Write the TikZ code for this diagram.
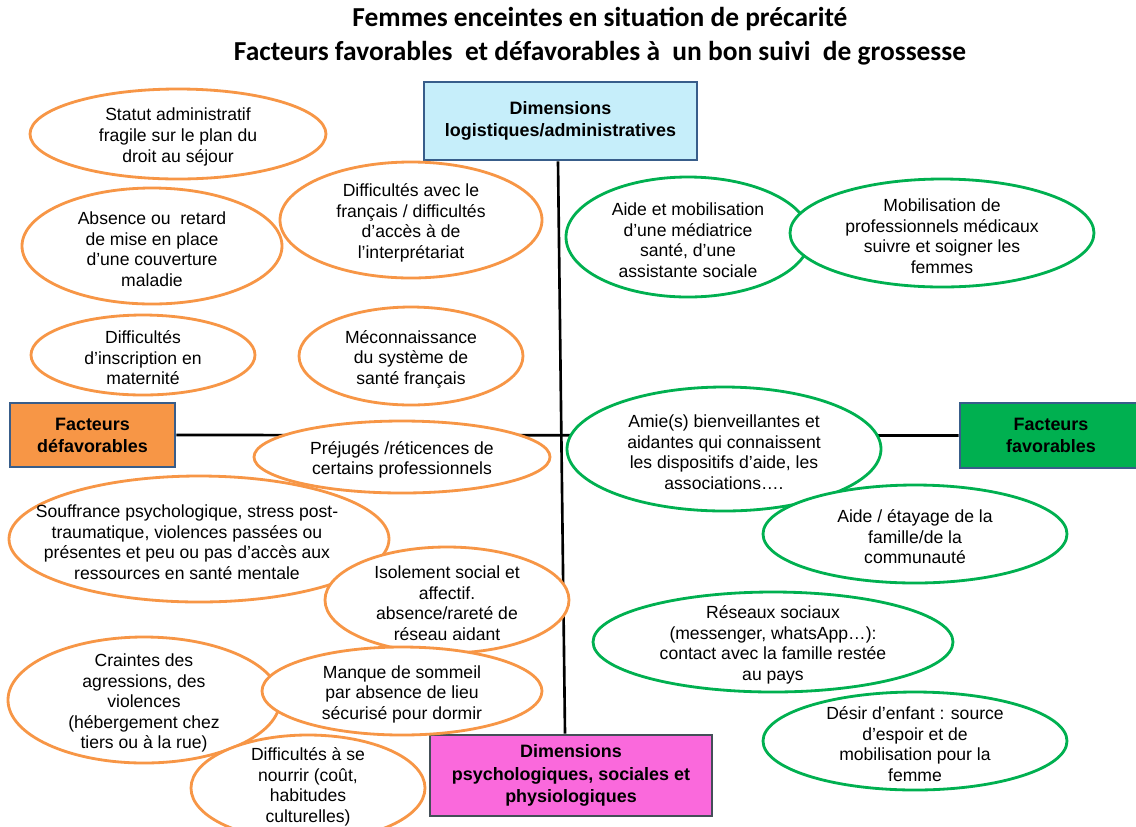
\documentclass[tikz,border=0pt]{standalone}
\usepackage{fontspec}
\setmainfont{Liberation Sans}
\newfontfamily\titlefont{Carlito}
\usetikzlibrary{shapes.geometric}
\definecolor{orng}{HTML}{F79646}
\definecolor{grn}{HTML}{00B050}
\definecolor{boxblue}{HTML}{385D8A}
\definecolor{cyanbox}{RGB}{198,238,250}
\definecolor{magbox}{RGB}{250,105,220}
\begin{document}
\begin{tikzpicture}[x=0.02cm,y=-0.02cm,
  oell/.style 2 args={ellipse, draw=orng, line width=1.6pt, fill=white,
    minimum width=#1*0.02cm, minimum height=#2*0.02cm, inner sep=0pt},
  gell/.style 2 args={ellipse, draw=grn, line width=1.6pt, fill=white,
    minimum width=#1*0.02cm, minimum height=#2*0.02cm, inner sep=0pt},
  txt/.style={align=center, font=\fontsize{10}{11.7}\selectfont, inner sep=0pt, yshift=-0.06cm},
  boxnode/.style 2 args={rectangle, draw=boxblue, line width=1.6pt, align=center,
    font=\fontsize{10.2}{12.6}\selectfont\bfseries, inner sep=0pt,
    minimum width=#1*0.02cm, minimum height=#2*0.02cm},
  axis/.style={draw=black, line width=1.5pt}]
\useasboundingbox (0,0) rectangle (1136,826);
\fill[white] (0,0) rectangle (1136,826);

% title
\node[align=center, font=\titlefont\fontsize{15.6}{19.3}\selectfont\bfseries, inner sep=0pt] (title) at (600,36)
  {Femmes enceintes en situation de précarité\\Facteurs favorables\ \ et défavorables à\ \ un bon suivi\ \ de grossesse};

% boxes
\node[boxnode={273}{78}, fill=cyanbox] (top) at (560.5,121) {Dimensions\\logistiques/administratives};
\node[boxnode={282}{81}, fill=magbox, draw=black!75!cyan] (bot) at (571,775.5) {Dimensions\\psychologiques, sociales et\\physiologiques};
\node[boxnode={165}{64}, fill=orng] (left) at (92.5,435) {Facteurs\\défavorables};
\node[boxnode={182}{65}, fill=grn] (right) at (1051,435.5) {Facteurs\\favorables};

% axes
\draw[axis] ([xshift=-0.05cm]top.south) -- ([xshift=-0.12cm]bot.north);
\draw[axis] (left.east) -- (right.west);

% orange ellipses (unfavourable)
\node[oell={296}{90}] (e1) at (178,134) {};
\node[txt] (t1) at (e1) {Statut administratif\\fragile sur le plan du\\droit au séjour};
\node[oell={260}{116}] (e2) at (152,246) {};
\node[txt] (t2) at (e2) {Absence ou\ \ retard\\de mise en place\\d’une couverture\\maladie};
\node[oell={262}{116}] (e3) at (411,220) {};
\node[txt] (t3) at (e3) {Difficultés avec le\\français / difficultés\\d’accès à de\\l’interprétariat};
\node[oell={224}{80}] (e4) at (143,355) {};
\node[txt] (t4) at (e4) {Difficultés\\d’inscription en\\maternité};
\node[oell={224}{98}] (e5) at (411,356) {};
\node[txt] (t5) at (e5) {Méconnaissance\\du système de\\santé français};
\node[oell={296}{72}] (e6) at (402,457) {};
\node[txt] (t6) at (e6) {Préjugés /réticences de\\certains professionnels};
\node[oell={380}{126}] (e7) at (199,539) {};
\node[txt, xshift=-0.24cm] (t7) at (e7) {Souffrance psychologique, stress post-\\traumatique, violences passées ou\\présentes et peu ou pas d’accès aux\\ressources en santé mentale};
\node[oell={244}{106}] (e8) at (447,600) {};
\node[txt] (t8) at (e8) {Isolement social et\\affectif.\\absence/rareté de\\réseau aidant};
\node[oell={272}{126}] (e9) at (144,700) {};
\node[txt] (t9) at (e9) {Craintes des\\agressions, des\\violences\\(hébergement chez\\tiers ou à la rue)};
\node[oell={280}{88}] (e10) at (402,691) {};
\node[txt] (t10) at (e10) {Manque de sommeil\\par absence de lieu\\sécurisé pour dormir};
\node[oell={234}{106}] (e11) at (308,788) {};
\node[txt, yshift=0.08cm] (t11) at (e11) {Difficultés à se\\nourrir (coût,\\habitudes\\culturelles)};

% green ellipses (favourable)
\node[gell={244}{120}] (g1) at (688,237) {};
\node[txt] (u1) at (g1) {Aide et mobilisation\\d’une médiatrice\\santé, d’une\\assistante sociale};
\node[gell={304}{108}] (g2) at (942,233) {};
\node[txt] (u2) at (g2) {Mobilisation de\\professionnels médicaux\\suivre et soigner les\\femmes};
\node[gell={314}{124}] (g3) at (724,449) {};
\node[txt] (u3) at (g3) {Amie(s) bienveillantes et\\aidantes qui connaissent\\les dispositifs d’aide, les\\associations….};
\node[gell={304}{98}] (g4) at (915,534) {};
\node[txt] (u4) at (g4) {Aide / étayage de la\\famille/de la\\communauté};
\node[gell={360}{100}] (g5) at (773,642) {};
\node[txt] (u5) at (g5) {Réseaux sociaux\\(messenger, whatsApp…):\\contact avec la famille restée\\au pays};
\node[gell={304}{98}] (g6) at (915,741) {};
\node[txt] (u6) at (g6) {Désir d’enfant : source\\d’espoir et de\\mobilisation pour la\\femme};
\end{tikzpicture}
\end{document}
